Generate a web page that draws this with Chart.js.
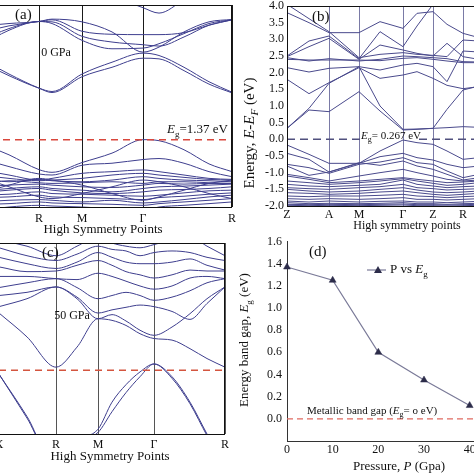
<!DOCTYPE html>
<html>
<head>
<meta charset="utf-8">
<script src="https://cdn.jsdelivr.net/npm/chart.js"></script>
<style>
html, body { margin:0; padding:0; background:#fff; overflow:hidden; width:474px; height:474px; }
canvas { position:absolute; }
#ca { left:-21px; top:0; }
#cb { left:237px; top:0; }
#cc { left:-1px; top:237px; }
#cd { left:237px; top:237px; }
</style>
</head>
<body>
<canvas id="ca" width="258" height="237"></canvas>
<canvas id="cb" width="260" height="237"></canvas>
<canvas id="cc" width="232" height="237"></canvas>
<canvas id="cd" width="260" height="237"></canvas>
<script>
// ---- panel (a) : 0 GPa
var kA = [0, 0.30, 0.60, 0.73, 1.03, 1.33, 1.64, 1.80, 2.05, 2.30, 2.53];
var symKA = [0, 0.60, 1.03, 1.64, 2.53];
var symLabelsA = ['X', 'R', 'M', 'Γ', 'R'];
var condA = [
    [2.43, 1.95, 1.53, 1.40, 1.87, 2.15, 2.42, 2.40, 2.05, 1.65, 1.39],
    [2.33, 1.90, 1.53, 1.43, 1.95, 2.30, 2.57, 2.50, 2.15, 1.72, 1.41],
    [2.77, 3.25, 3.51, 3.45, 2.95, 2.70, 2.72, 2.85, 3.15, 3.45, 3.56],
    [2.92, 3.30, 3.51, 3.50, 3.07, 2.90, 2.82, 2.78, 3.05, 3.40, 3.56],
    [3.17, 3.38, 3.51, 3.56, 3.22, 3.13, 3.12, 3.12, 3.18, 3.40, 3.56],
    [3.37, 3.45, 3.51, 3.58, 3.50, 3.20, 2.60, 2.75, 3.20, 3.50, 3.57],
    [4.60, 4.60, 4.50, 4.50, 4.40, 4.25, 3.92, 3.76, 4.15, 4.50, 4.60]
];
var valA = [
    [-0.09, -0.45, -0.89, -0.97, -0.68, -0.40, 0.00, -0.03, -0.30, -0.72, -0.95],
    [-0.55, -0.80, -1.02, -1.05, -0.76, -0.70, -0.59, -0.56, -0.70, -0.95, -1.10],
    [-0.89, -1.05, -1.20, -1.15, -1.00, -0.95, -0.90, -0.95, -1.05, -1.15, -1.18],
    [-1.05, -1.15, -1.22, -1.20, -1.15, -1.05, -1.00, -1.05, -1.12, -1.18, -1.20],
    [-1.14, -1.25, -1.18, -1.22, -1.25, -1.20, -1.10, -1.15, -1.20, -1.22, -1.25],
    [-1.34, -1.22, -1.28, -1.30, -1.28, -1.25, -1.30, -1.25, -1.25, -1.28, -1.30],
    [-1.40, -1.35, -1.32, -1.35, -1.40, -1.42, -1.35, -1.30, -1.32, -1.30, -1.30],
    [-1.53, -1.45, -1.40, -1.45, -1.50, -1.55, -1.45, -1.40, -1.38, -1.35, -1.32],
    [-1.58, -1.50, -1.45, -1.50, -1.58, -1.60, -1.55, -1.50, -1.48, -1.45, -1.40],
    [-1.65, -1.62, -1.55, -1.60, -1.62, -1.65, -1.68, -1.65, -1.58, -1.52, -1.50],
    [-1.73, -1.70, -1.65, -1.70, -1.72, -1.75, -1.78, -1.72, -1.68, -1.62, -1.58],
    [-1.85, -1.80, -1.78, -1.80, -1.85, -1.80, -1.88, -1.85, -1.78, -1.70, -1.65],
    [-1.93, -1.90, -1.85, -1.88, -1.90, -1.92, -1.95, -1.90, -1.85, -1.80, -1.75],
    [-2.10, -2.00, -1.95, -1.97, -2.00, -2.05, -2.10, -2.00, -1.95, -1.90, -1.85],
    [-1.10, -1.40, -1.70, -1.75, -1.60, -1.40, -1.20, -1.25, -1.40, -1.60, -1.75],
    [-1.60, -1.35, -1.15, -1.20, -1.35, -1.60, -1.80, -1.70, -1.50, -1.30, -1.20]
];

// ---- panel (b)
var kB = [0, 0.22, 0.42, 0.72, 0.93, 1.16, 1.30, 1.46, 1.60, 1.76, 1.92, 2.08];
var symKB = [0, 0.42, 0.72, 1.16, 1.46, 1.76];
var symLabelsB = ['Z', 'A', 'M', 'Γ', 'Z', 'R'];
var energyTicksB = [-2.0, -1.5, -1.0, -0.5, 0.0, 0.5, 1.0, 1.5, 2.0, 2.5, 3.0, 3.5, 4.0];
var condB = [
    [0.33, 0.88, 0.83, 1.43, 0.85, 0.28, 0.30, 0.33, 0.90, 1.48, 1.60, 1.66],
    [0.33, 0.93, 1.68, 2.18, 1.00, 0.30, 0.31, 0.33, 0.35, 0.38, 0.36, 0.35],
    [1.80, 1.37, 1.70, 2.15, 1.83, 1.93, 2.03, 1.83, 1.62, 1.52, 1.58, 1.62],
    [2.15, 2.02, 2.13, 2.18, 2.08, 2.23, 2.28, 2.18, 1.73, 2.65, 2.62, 2.60],
    [2.40, 2.38, 2.38, 2.38, 2.36, 2.43, 2.45, 2.40, 2.35, 2.30, 2.30, 2.30],
    [2.45, 2.35, 2.42, 2.35, 2.40, 2.50, 2.48, 2.45, 2.42, 2.33, 2.32, 2.32],
    [2.48, 2.78, 3.03, 2.40, 2.83, 2.68, 2.58, 2.50, 2.88, 2.48, 2.40, 2.36],
    [2.50, 2.95, 3.10, 2.42, 3.23, 2.78, 3.40, 4.05, 4.30, 4.30, 4.30, 4.30],
    [3.80, 3.50, 3.20, 3.20, 3.53, 3.33, 3.78, 3.83, 3.45, 3.18, 3.05, 3.00],
    [4.05, 3.62, 3.23, 2.45, 2.55, 2.60, 2.55, 2.52, 2.48, 2.98, 2.95, 2.92]
];
var valB = [
    [-0.17, -0.45, -0.72, -0.72, -0.35, -0.02, -0.10, -0.15, -0.35, -0.60, -0.55, -0.52],
    [-0.42, -0.60, -0.98, -0.72, -0.52, -0.42, -0.55, -0.62, -0.75, -0.85, -0.80, -0.78],
    [-0.75, -0.85, -1.02, -0.75, -0.68, -0.55, -0.70, -0.75, -0.95, -1.15, -1.05, -1.00],
    [-0.80, -1.08, -0.98, -0.70, -0.78, -0.65, -0.80, -0.90, -1.05, -1.22, -1.15, -1.10],
    [-1.05, -1.15, -1.25, -1.10, -1.00, -0.90, -1.00, -1.10, -1.20, -1.25, -1.22, -1.20],
    [-1.10, -1.20, -1.30, -1.25, -1.20, -1.15, -1.20, -1.25, -1.30, -1.28, -1.25, -1.22],
    [-1.25, -1.30, -1.35, -1.30, -1.25, -1.18, -1.25, -1.32, -1.38, -1.35, -1.30, -1.30],
    [-1.35, -1.40, -1.42, -1.38, -1.35, -1.22, -1.35, -1.40, -1.45, -1.42, -1.40, -1.38],
    [-1.45, -1.48, -1.50, -1.45, -1.42, -1.35, -1.45, -1.48, -1.52, -1.50, -1.48, -1.45],
    [-1.50, -1.55, -1.58, -1.55, -1.50, -1.45, -1.52, -1.58, -1.60, -1.58, -1.55, -1.52],
    [-1.60, -1.62, -1.65, -1.62, -1.58, -1.55, -1.60, -1.65, -1.68, -1.65, -1.62, -1.60],
    [-1.70, -1.72, -1.70, -1.70, -1.68, -1.65, -1.70, -1.72, -1.75, -1.72, -1.70, -1.68],
    [-1.78, -1.80, -1.78, -1.80, -1.78, -1.75, -1.80, -1.80, -1.82, -1.80, -1.78, -1.76],
    [-1.85, -1.88, -1.85, -1.88, -1.86, -1.85, -1.88, -1.88, -1.90, -1.88, -1.86, -1.85],
    [-1.90, -1.93, -1.92, -1.93, -1.92, -1.90, -1.93, -1.93, -1.95, -1.93, -1.92, -1.90],
    [-1.95, -1.96, -1.95, -1.96, -1.95, -1.94, -1.96, -1.96, -1.97, -1.96, -1.95, -1.94],
    [-1.98, -1.99, -1.98, -1.99, -1.98, -1.97, -1.99, -1.99, -2.00, -1.99, -1.98, -1.97]
];

// ---- panel (c) : 50 GPa
var kC = [0, 0.28, 0.57, 0.78, 0.99, 1.13, 1.27, 1.41, 1.55, 1.73, 1.91, 2.08, 2.26];
var symKC = [0, 0.57, 0.99, 1.55, 2.26];
var symLabelsC = ['X', 'R', 'M', 'Γ', 'R'];
var condC = [
    [1.80, 1.05, 0.10, 0.73, 1.62, 1.57, 1.41, 1.15, 1.00, 0.95, 0.68, 0.37, 0.10],
    [2.00, 2.25, 2.62, 2.25, 1.62, 1.75, 1.55, 1.26, 1.10, 1.36, 1.78, 2.25, 2.62],
    [2.35, 2.45, 2.62, 2.30, 1.80, 1.90, 1.98, 2.05, 2.00, 1.85, 1.60, 2.10, 2.62],
    [2.60, 2.75, 2.88, 2.60, 2.25, 2.35, 2.45, 2.35, 2.20, 2.30, 2.50, 2.75, 2.88],
    [2.95, 2.95, 2.88, 2.85, 3.05, 2.95, 2.80, 2.65, 2.55, 2.65, 2.90, 2.95, 2.88],
    [3.25, 3.10, 3.12, 3.30, 3.45, 3.30, 3.10, 3.00, 2.90, 3.00, 3.15, 3.12, 3.12],
    [3.55, 3.35, 3.20, 3.40, 3.70, 3.55, 3.40, 3.35, 3.35, 3.40, 3.50, 3.30, 3.15],
    [3.85, 3.60, 3.45, 3.65, 3.90, 3.80, 3.75, 3.60, 3.70, 3.75, 3.70, 3.55, 3.45],
    [4.10, 3.90, 3.60, 3.90, 4.20, 4.00, 3.90, 3.85, 3.95, 4.10, 4.20, 3.90, 3.60]
];
var valC = [
    [-0.12, -1.45, -3.00, -2.20, -1.85, -1.00, -0.45, -0.05, 0.20, -0.20, -1.00, -2.00, -3.00],
    [-0.12, -1.50, -3.00, -2.25, -1.95, -1.30, -0.70, -0.20, 0.20, -0.25, -1.05, -2.05, -3.00]
];

// ---- panel (d)
var pressure = [0, 10, 20, 30, 40];
var bandGap = [1.37, 1.25, 0.60, 0.35, 0.12];
var pressureTicks = [0, 10, 20, 30, 40];
var gapTicks = [0, 0.2, 0.4, 0.6, 0.8, 1.0, 1.2, 1.4, 1.6];

Chart.defaults.font.family = '"Liberation Serif", serif';
Chart.defaults.color = '#111';

// draws text made of pieces: [text, style] style '' | 'i' | 'sub' | 'isub'
function richText(ctx, parts, x, y, size, opt){
    opt = opt || {};
    ctx.save();
    ctx.translate(x, y);
    if(opt.rotate){ ctx.rotate(-Math.PI/2); }
    var fontFor = function(st){
        return (st.indexOf('i')==0 ? 'italic ' : '') + (st.indexOf('sub')>=0 ? Math.round(size*0.7) : size) + 'px "Liberation Serif"';
    };
    var w = 0;
    parts.forEach(function(p){ ctx.font = fontFor(p[1]); w += ctx.measureText(p[0]).width; });
    var cx = opt.align=='left' ? 0 : -w/2;
    ctx.fillStyle = opt.color || '#111';
    ctx.textBaseline = 'middle';
    parts.forEach(function(p){
        ctx.font = fontFor(p[1]);
        ctx.fillText(p[0], cx, p[1].indexOf('sub')>=0 ? size*0.32 : 0);
        cx += ctx.measureText(p[0]).width;
    });
    ctx.restore();
}

var framePlugin = {
    id: 'frame',
    afterDatasetsDraw: function(chart){
        var a = chart.chartArea, ctx = chart.ctx;
        ctx.save();
        ctx.strokeStyle = '#111';
        ctx.lineWidth = 1;
        ctx.strokeRect(Math.round(a.left)+0.5, Math.round(a.top)+0.5, Math.round(a.right-a.left)-1, Math.round(a.bottom-a.top));
        ctx.restore();
    }
};

function bandSets(k, bands, color, smooth){
    return bands.map(function(b){
        return {
            data: k.map(function(x, i){ return {x: x, y: b[i]}; }),
            borderColor: color,
            borderWidth: 1,
            pointRadius: 0,
            tension: 0,
            cubicInterpolationMode: smooth ? 'monotone' : 'default'
        };
    });
}

function bandChart(id, o){
    var fermi = {
        data: o.fermi,
        borderColor: o.dashColor,
        borderDash: o.dash,
        borderWidth: 1.5,
        pointRadius: 0,
        spanGaps: false
    };
    var datasets = [fermi].concat(bandSets(o.k, o.cond, o.color, o.smooth), bandSets(o.k, o.val, o.color, o.smooth));
    var yScale = {
        display: o.yLabels,
        min: -2, max: 4,
        afterBuildTicks: function(s){ s.ticks = energyTicksB.map(function(v){ return {value: v}; }); },
        afterFit: function(s){
            if(o.yLabels){ s.width = 50; }
            s.paddingTop = 0; s.paddingBottom = 0;
        },
        ticks: { autoSkip: false, padding: 3, font: {size: 12}, callback: function(v){ return v.toFixed(1); } },
        grid: { display: false, tickLength: 0 },
        border: { display: false }
    };
    return new Chart(document.getElementById(id), {
        type: 'line',
        data: { datasets: datasets },
        options: {
            responsive: false,
            animation: false,
            events: [],
            layout: { padding: o.pad },
            plugins: { legend: {display: false}, tooltip: {enabled: false} },
            scales: {
                x: {
                    type: 'linear',
                    min: 0, max: o.k[o.k.length-1],
                    afterBuildTicks: function(s){ s.ticks = o.symK.map(function(v){ return {value: v}; }); },
                    afterFit: function(s){ s.height = o.xh; s.paddingLeft = 0; s.paddingRight = 0; },
                    ticks: {
                        autoSkip: false, maxRotation: 0, padding: o.tickPad, font: {size: 12},
                        callback: function(v, i){ return o.symLabels[i]; }
                    },
                    grid: { color: o.symColor, drawTicks: false, lineWidth: 1 },
                    border: { display: false }
                },
                y: yScale
            }
        },
        plugins: [framePlugin, {id: 'notes' + id, afterDraw: o.notes}]
    });
}

bandChart('ca', {
    k: kA, symK: symKA, symLabels: symLabelsA, cond: condA, val: valA,
    color: '#3e3e8e', smooth: true, symColor: '#1a1a1a',
    fermi: [{x: 0, y: 0}, {x: 2.53, y: 0}], dashColor: '#d9473c', dash: [7, 5],
    pad: {left: 0, right: 5, top: 5, bottom: 0}, xh: 30, tickPad: 5, yLabels: false,
    notes: function(c){
        var ctx = c.ctx, ox = -21, oy = 0;
        richText(ctx, [['(a)', '']], 15-ox, 15-oy, 15, {align: 'left'});
        richText(ctx, [['0 GPa', '']], 56-ox, 53-oy, 12);
        richText(ctx, [['E', 'i'], ['g', 'sub'], ['=1.37 eV', '']], 167-ox, 130-oy, 13, {align: 'left'});
        richText(ctx, [['High Symmetry Points', '']], 103-ox, 230-oy, 13);
    }
});

bandChart('cb', {
    k: kB, symK: symKB, symLabels: symLabelsB, cond: condB, val: valB,
    color: '#4a4a8c', smooth: false, symColor: '#7a7aa6',
    fermi: [{x: 0, y: 0}, {x: 0.73, y: 0}, {x: 1.0, y: null}, {x: 1.32, y: 0}, {x: 2.08, y: 0}],
    dashColor: '#50507e', dash: [8, 5],
    pad: {left: 0, right: 2, top: 6, bottom: 0}, xh: 31, tickPad: 2, yLabels: true,
    notes: function(c){
        var ctx = c.ctx, ox = 237, oy = 0;
        richText(ctx, [['(b)', '']], 312-ox, 17-oy, 15, {align: 'left'});
        richText(ctx, [['E', 'i'], ['g', 'sub'], ['= 0.267 eV', '']], 361-ox, 136-oy, 11, {align: 'left'});
        richText(ctx, [['High symmetry points', '']], 407-ox, 226-oy, 12);
        richText(ctx, [['Energy, ', ''], ['E', 'i'], ['-', ''], ['E', 'i'], ['F', 'isub'], [' (eV)', '']], 250-ox, 133-oy, 15, {rotate: true});
    }
});

bandChart('cc', {
    k: kC, symK: symKC, symLabels: symLabelsC, cond: condC, val: valC,
    color: '#3e3e8e', smooth: true, symColor: '#555555',
    fermi: [{x: 0, y: 0}, {x: 2.26, y: 0}], dashColor: '#d4553f', dash: [7, 5],
    pad: {left: 0, right: 6, top: 6, bottom: 0}, xh: 40, tickPad: 4, yLabels: false,
    notes: function(c){
        var ctx = c.ctx, ox = -1, oy = 237;
        richText(ctx, [['(c)', '']], 42-ox, 253-oy, 15, {align: 'left'});
        richText(ctx, [['50 GPa', '']], 72-ox, 316-oy, 12);
        richText(ctx, [['High Symmetry Points', '']], 110-ox, 457-oy, 13);
    }
});

new Chart(document.getElementById('cd'), {
    type: 'line',
    data: {
        datasets: [
            {
                data: [{x: 0, y: 0}, {x: 45, y: 0}],
                borderColor: '#e06a60', borderDash: [6, 4], borderWidth: 1.2, pointRadius: 0
            },
            {
                data: pressure.map(function(p, i){ return {x: p, y: bandGap[i]}; }),
                borderColor: '#7a7a98', borderWidth: 1.2, tension: 0,
                pointStyle: 'triangle', pointRadius: 4,
                pointBackgroundColor: '#2c2c4a', pointBorderColor: '#2c2c4a', pointBorderWidth: 0.5,
                clip: false
            }
        ]
    },
    options: {
        responsive: false,
        animation: false,
        events: [],
        layout: { padding: {left: 0, right: 1, top: 3, bottom: 0} },
        plugins: { legend: {display: false}, tooltip: {enabled: false} },
        scales: {
            x: {
                type: 'linear', min: 0, max: 45,
                afterBuildTicks: function(s){ s.ticks = pressureTicks.map(function(v){ return {value: v}; }); },
                afterFit: function(s){ s.height = 33; s.paddingLeft = 0; s.paddingRight = 0; },
                ticks: { padding: 2, font: {size: 12}, maxRotation: 0, autoSkip: false },
                grid: { display: false, tickLength: 0 },
                border: { display: true, color: '#333', width: 1 }
            },
            y: {
                min: -0.2, max: 1.6,
                afterBuildTicks: function(s){ s.ticks = gapTicks.map(function(v){ return {value: v}; }); },
                afterFit: function(s){ s.width = 50; s.paddingTop = 0; s.paddingBottom = 0; },
                ticks: { padding: 5, font: {size: 12}, autoSkip: false, callback: function(v){ return v.toFixed(1); } },
                grid: { display: false, tickLength: 0 },
                border: { display: true, color: '#333', width: 1 }
            }
        }
    },
    plugins: [{
        id: 'notesd',
        afterDraw: function(c){
            var ctx = c.ctx, ox = 237, oy = 237;
            richText(ctx, [['(d)', '']], 309-ox, 252-oy, 15, {align: 'left'});
            ctx.save();
            ctx.strokeStyle = '#7a7a98';
            ctx.lineWidth = 1.2;
            ctx.beginPath();
            ctx.moveTo(367-ox, 270-oy);
            ctx.lineTo(386-ox, 270-oy);
            ctx.stroke();
            ctx.fillStyle = '#2c2c4a';
            ctx.beginPath();
            ctx.moveTo(378-ox, 266-oy);
            ctx.lineTo(382-ox, 273-oy);
            ctx.lineTo(374-ox, 273-oy);
            ctx.closePath();
            ctx.fill();
            ctx.restore();
            richText(ctx, [['P vs ', ''], ['E', 'i'], ['g', 'sub']], 390-ox, 270-oy, 13, {align: 'left'});
            richText(ctx, [['Metallic band gap (', ''], ['E', 'i'], ['g', 'sub'], ['= o eV)', '']], 307-ox, 411-oy, 11, {align: 'left'});
            richText(ctx, [['Pressure, ', ''], ['P', 'i'], [' (Gpa)', '']], 399-ox, 467-oy, 13);
            richText(ctx, [['Energy band gap, ', ''], ['E', 'i'], ['g', 'sub'], [' (eV)', '']], 245-ox, 340-oy, 13, {rotate: true});
        }
    }]
});
</script>
</body>
</html>
